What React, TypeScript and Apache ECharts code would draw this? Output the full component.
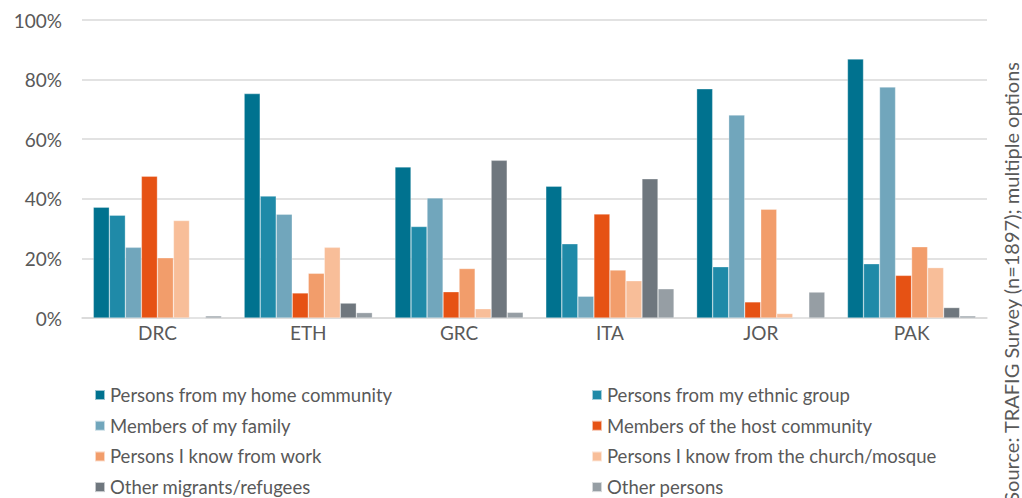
import React, { useEffect, useRef } from "react";
import * as echarts from "echarts";

const categories = ["DRC", "ETH", "GRC", "ITA", "JOR", "PAK"];
const seriesNames = [
  "Persons from my home community",
  "Persons from my ethnic group",
  "Members of my family",
  "Members of the host community",
  "Persons I know from work",
  "Persons I know from the church/mosque",
  "Other migrants/refugees",
  "Other persons",
];
const colors = ["#00728f", "#1f8aa8", "#71a6bc", "#e65214", "#f29d6b", "#f8be99", "#6f777e", "#969ea4"];
const homeCommunity = [37.2, 75.3, 50.7, 44.2, 76.9, 86.9];
const ethnicGroup = [34.5, 40.9, 30.7, 24.9, 17.2, 18.2];
const family = [23.7, 34.8, 40.3, 7.3, 68.1, 77.5];
const hostCommunity = [47.6, 8.4, 8.8, 34.9, 5.4, 14.3];
const work = [20.2, 15.0, 16.6, 16.1, 36.5, 23.9];
const church = [32.7, 23.7, 3.1, 12.5, 1.5, 16.9];
const otherMigrants = [0, 5.0, 52.9, 46.7, 0, 3.5];
const otherPersons = [0.7, 1.8, 1.9, 9.8, 8.7, 0.7];
const seriesValues = [homeCommunity, ethnicGroup, family, hostCommunity, work, church, otherMigrants, otherPersons];
const sourceText = "Source: TRAFIG Survey (n=1897); multiple options";

const FONT = "Lato";
const TEXT_COLOR = "#595959";

export default function App() {
  const ref = useRef<HTMLDivElement>(null);
  useEffect(() => {
    if (!ref.current) return;
    const chart = echarts.init(ref.current, undefined, { renderer: "svg" });
    const legendCommon = {
      orient: "vertical" as const,
      top: 385,
      height: 130,
      padding: 0,
      itemWidth: 10,
      itemHeight: 10,
      itemGap: 10.7,
      icon: "rect",
      textStyle: { fontFamily: FONT, fontSize: 18.5, color: TEXT_COLOR, lineHeight: 20 },
    };
    chart.setOption({
      animation: false,
      textStyle: { fontFamily: FONT },
      grid: { left: 82, right: 35, top: 20, bottom: 180, containLabel: false },
      legend: [
        { ...legendCommon, left: 94, data: [seriesNames[0], seriesNames[2], seriesNames[4], seriesNames[6]] },
        { ...legendCommon, left: 591, data: [seriesNames[1], seriesNames[3], seriesNames[5], seriesNames[7]] },
      ],
      xAxis: {
        type: "category",
        data: categories,
        axisLine: { lineStyle: { color: "#d9d9d9", width: 1.5 } },
        axisTick: { show: false },
        axisLabel: { fontFamily: FONT, fontSize: 19, color: TEXT_COLOR, margin: 5 },
      },
      yAxis: {
        type: "value",
        min: 0,
        max: 100,
        interval: 20,
        axisLabel: { formatter: "{value}%", fontFamily: FONT, fontSize: 19, color: TEXT_COLOR, margin: 20 },
        splitLine: { lineStyle: { color: "#d9d9d9", width: 1.5 } },
        axisLine: { show: false },
        axisTick: { show: false },
      },
      series: seriesNames.map((name, i) => ({
        name,
        type: "bar",
        data: seriesValues[i],
        barGap: "0%",
        barCategoryGap: "15%",
        itemStyle: { color: colors[i], borderColor: "rgba(255,255,255,0.6)", borderWidth: 0.5 },
      })),
      graphic: [
        {
          type: "text",
          x: 1011,
          y: 62,
          rotation: Math.PI / 2,
          style: {
            text: sourceText,
            fontFamily: FONT,
            fontSize: 20,
            fill: TEXT_COLOR,
            textAlign: "right",
            textVerticalAlign: "middle",
          },
        },
      ],
    });
    return () => chart.dispose();
  }, []);
  return <div ref={ref} style={{ width: 1022, height: 498, position: "absolute", left: 0, top: 0 }} />;
}
